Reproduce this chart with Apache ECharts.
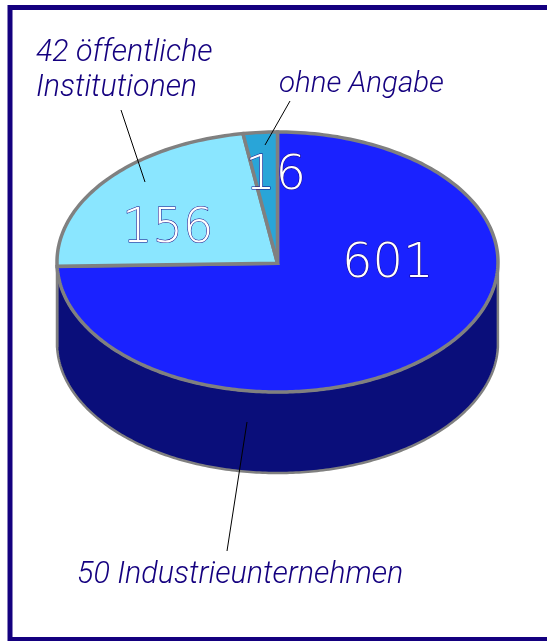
<!DOCTYPE html>
<html>
<head>
<meta charset="utf-8">
<title>Pie</title>
<script src="https://cdn.jsdelivr.net/npm/echarts@6/dist/echarts.min.js"></script>
<style>
  html, body { margin: 0; padding: 0; background: #fff; }
  #chart { width: 547px; height: 641px; }
</style>
</head>
<body>
<div id="chart"></div>
<script>
const sliceNames = ["Industrieunternehmen", "öffentliche Institutionen", "ohne Angabe"];
const sliceValues = [601, 156, 16];
const topColors = ["#1a22ff", "#8ae6ff", "#29a5d8"];
const wallColors = ["#0a0e7a", "#2a6f8a", "#14607f"];

const NAVY = "#14007f";
const GRAY = "#808080";
const DEPTH = 0.623; // height of the cylinder, in units of the vertical radius

const total = sliceValues.reduce((sum, v) => sum + v, 0);

// the source picture is slightly skewed by its 3D view, slices are not quite proportional
function viewAngle(deg){
  return deg + 12 * Math.sin(deg * Math.PI / 180);
}

function rimPoint(deg, drop){
  const rad = viewAngle(deg) * Math.PI / 180;
  return [Math.sin(rad), Math.cos(rad) - drop];
}

function sliceRange(idx){
  let start = 0;
  for(let i = 0; i < idx; i++) start += sliceValues[i];
  return [start / total * 360, (start + sliceValues[idx]) / total * 360];
}

function arc(from, to, drop){
  const pts = [];
  const steps = Math.max(2, Math.ceil(Math.abs(to - from)));
  for(let i = 0; i <= steps; i++){
    pts.push(rimPoint(from + (to - from) * i / steps, drop));
  }
  return pts;
}

function renderTop(params, api){
  const idx = params.dataIndex;
  const [from, to] = sliceRange(idx);
  const pts = [[0, -0.01]].concat(arc(from, to, 0)).map((p) => api.coord(p));
  return {
    type: "polygon",
    shape: { points: pts },
    style: { fill: topColors[idx], stroke: GRAY, lineWidth: 3.5, lineJoin: "miter", miterLimit: 3 }
  };
}

function renderWall(params, api){
  const idx = params.dataIndex;
  let [from, to] = sliceRange(idx);
  // only the front half of the cylinder can be seen
  from = Math.max(from, 80);
  to = Math.min(to, 280);
  if(to <= from) return null;
  const pts = arc(from, to, 0).concat(arc(to, from, DEPTH)).map((p) => api.coord(p));
  return {
    type: "polygon",
    shape: { points: pts },
    style: { fill: wallColors[idx], stroke: GRAY, lineWidth: 2.5 }
  };
}

function valueLabel(text, x, y){
  return {
    type: "text",
    x, y,
    z: 10,
    style: {
      text,
      font: "200 48px 'DejaVu Sans'",
      fill: "#fff",
      stroke: NAVY,
      lineWidth: 1,
      textVerticalAlign: "middle"
    }
  };
}

function nameLabel(text, x, y, size){
  return {
    type: "text",
    x, y,
    z: 10,
    style: {
      text,
      font: `italic 300 ${size}px Roboto`,
      fill: NAVY,
      textVerticalAlign: "middle"
    }
  };
}

function leader(x1, y1, x2, y2){
  return {
    type: "line",
    z: 9,
    shape: { x1, y1, x2, y2 },
    style: { stroke: "#000", lineWidth: 1 }
  };
}

const chart = echarts.init(document.getElementById("chart"), null, { renderer: "canvas" });

chart.setOption({
  animation: false,
  backgroundColor: "#fff",
  grid: { left: 57, top: 132, width: 441, height: 341 },
  xAxis: { type: "value", min: -1, max: 1, show: false },
  yAxis: { type: "value", min: -1 - DEPTH, max: 1, show: false },
  graphic: [
    {
      type: "rect",
      z: 0,
      shape: { x: 10, y: 7.5, width: 600, height: 632 },
      style: { fill: "none", stroke: NAVY, lineWidth: 5 }
    },
    leader(121, 110, 145, 182),
    leader(290, 101, 265, 145),
    leader(247, 422, 227, 551),
    nameLabel("42 öffentliche", 36, 53, 30.4),
    nameLabel("Institutionen", 36, 88, 30.4),
    nameLabel("ohne Angabe", 279, 85, 29.5),
    nameLabel("50 Industrieunternehmen", 77, 575, 30.5),
    valueLabel("601", 342, 265),
    valueLabel("156", 122, 230),
    valueLabel("16", 245, 177)
  ],
  series: [
    {
      type: "custom",
      name: "wall",
      coordinateSystem: "cartesian2d",
      z: 2,
      silent: true,
      renderItem: renderWall,
      data: sliceValues.map((v, i) => ({ name: sliceNames[i], value: [0, 0, v] }))
    },
    {
      type: "custom",
      name: "top",
      coordinateSystem: "cartesian2d",
      z: 3,
      silent: true,
      renderItem: renderTop,
      data: sliceValues.map((v, i) => ({ name: sliceNames[i], value: [0, 0, v] }))
    }
  ]
});
</script>
</body>
</html>
